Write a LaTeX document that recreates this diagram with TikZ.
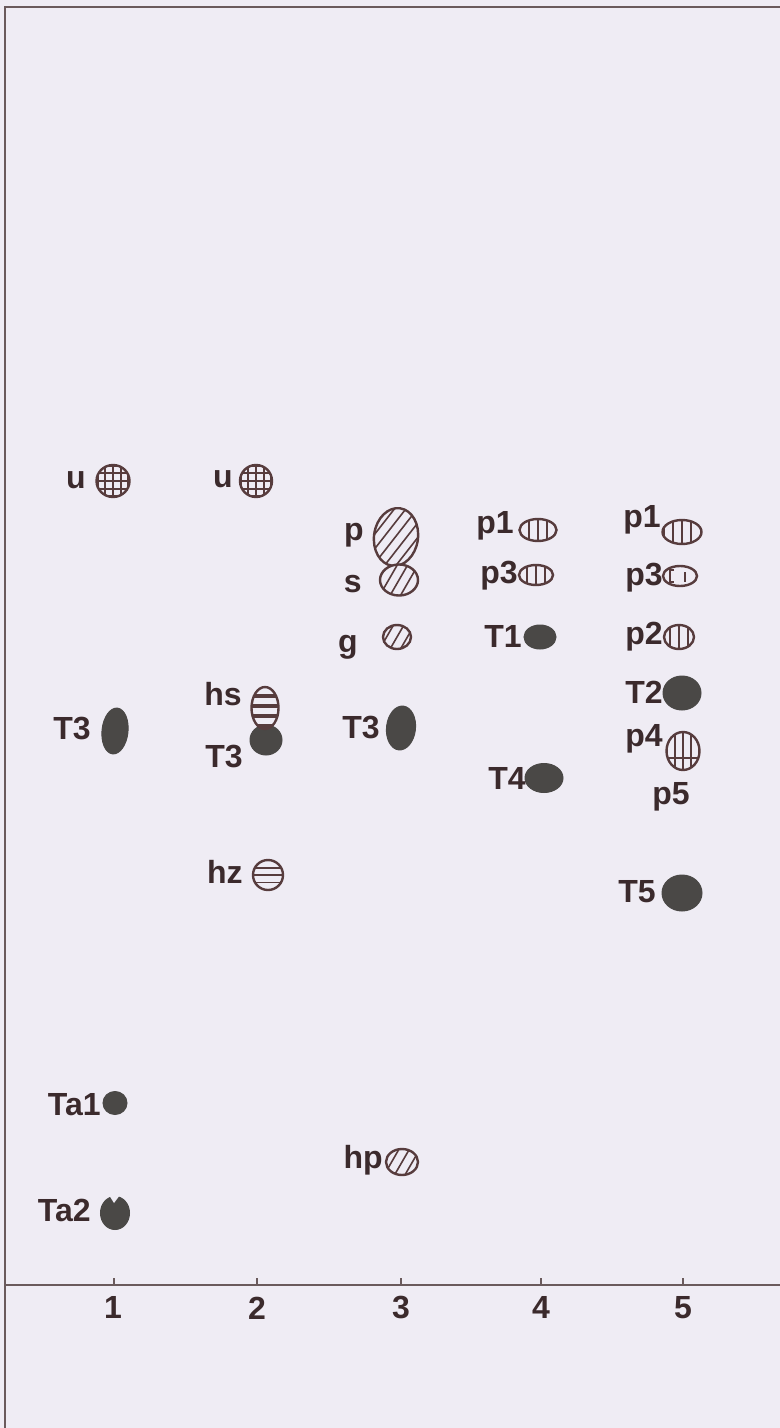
\documentclass[tikz,border=0pt]{standalone}
\usepackage{fontspec}
\setmainfont{Liberation Sans}
\usetikzlibrary{shapes.geometric}
\definecolor{bgcol}{HTML}{EFECF4}
\definecolor{ink}{HTML}{3B2A2C}
\definecolor{spotdark}{HTML}{4A4846}
\definecolor{spotline}{HTML}{573C3D}
\definecolor{axiscol}{HTML}{6A5A5C}
\begin{document}
\begin{tikzpicture}[x=0.5pt,y=-0.5pt,
  lbl/.style={anchor=base east, inner sep=0pt, text=ink, font=\fontsize{16}{18}\selectfont\bfseries},
  axlbl/.style={anchor=base, inner sep=0pt, text=ink, font=\fontsize{16}{18}\selectfont\bfseries},
  sz/.style n args={2}{minimum width=#1*0.5pt, minimum height=#2*0.5pt},
  darkspot/.style={ellipse, inner sep=0pt, fill=spotdark, draw=spotdark, line width=0.5pt},
  openspot/.style={ellipse, inner sep=0pt, fill=bgcol, draw=spotline, line width=1.2pt},
  vstripe/.style={openspot, path picture={
      \foreach \k in {-2,...,2} \draw[spotline, line width=0.9pt]
        ([xshift=\k*4.6pt]path picture bounding box.north) -- ([xshift=\k*4.6pt]path picture bounding box.south);}},
  p4spot/.style={openspot, path picture={
      \foreach \k in {-2,...,2} \draw[spotline, line width=0.9pt]
        ([xshift=\k*4pt]path picture bounding box.north) -- ([xshift=\k*4pt]path picture bounding box.south);
      \draw[spotline, line width=0.9pt] ([yshift=-3.5pt]path picture bounding box.west) -- ([yshift=-3.5pt]path picture bounding box.east);}},
  hstripe/.style={openspot, path picture={
      \foreach \k in {-2,...,2} \draw[spotline, line width=0.9pt]
        ([yshift=\k*3.7pt]path picture bounding box.west) -- ([yshift=\k*3.7pt]path picture bounding box.east);}},
  hband/.style={openspot, path picture={
      \foreach \k in {-3,...,3} \draw[spotline, line width=2.1pt]
        ([yshift=\k*5pt+1pt]path picture bounding box.west) -- ([yshift=\k*5pt+1pt]path picture bounding box.east);}},
  gridspot/.style={openspot, path picture={
      \foreach \k in {-2,...,2} {\draw[spotline, line width=1pt]
        ([xshift=\k*3.8pt]path picture bounding box.north) -- ([xshift=\k*3.8pt]path picture bounding box.south);
        \draw[spotline, line width=1pt]
        ([yshift=\k*3.8pt]path picture bounding box.west) -- ([yshift=\k*3.8pt]path picture bounding box.east);}}},
  diagspot/.style={openspot, path picture={
      \foreach \k in {-5,...,5} \draw[spotline, line width=0.8pt]
        ([shift={(\k*5.2pt-12.5pt,-21.65pt)}]path picture bounding box.center) -- ++(60:50pt);}},
  p3spot/.style={openspot, path picture={
      \draw[spotline, line width=0.9pt] ([xshift=-3pt,yshift=3pt]path picture bounding box.center) -- ++(-2pt,0pt) -- ++(0pt,-6pt) -- ++(2pt,0pt);
      \draw[spotline, line width=0.9pt] ([xshift=2.5pt,yshift=2pt]path picture bounding box.center) -- ++(0pt,-5pt);}}
]
\useasboundingbox (0,0) rectangle (780,1428);
\fill[bgcol] (0,0) rectangle (780,1428);

% frame and axis
\draw[axiscol, line width=1pt] (5,1428) -- (5,7) -- (780,7);
\draw[axiscol, line width=1pt] (5,1285) -- (780,1285);
\foreach \x in {114,257,401,541,683} \draw[axiscol, line width=0.8pt] (\x,1285) -- (\x,1278);
\node[axlbl] (ax1) at (113,1318) {1};
\node[axlbl] (ax2) at (257,1319) {2};
\node[axlbl] (ax3) at (401,1318) {3};
\node[axlbl] (ax4) at (541,1318) {4};
\node[axlbl] (ax5) at (683,1318) {5};

% lane 1
\node[gridspot, sz={33}{32}] (u1) at (113,481) {};
\node[lbl] (lu1) at (86,488) {u};
\node[darkspot, sz={26}{46}, rotate=-6] (t3a) at (115,731) {};
\node[lbl] (lt3a) at (91,739) {T3};
\node[darkspot, sz={24}{23}] (ta1) at (115,1103) {};
\node[lbl] (lta1) at (101,1115) {Ta1};
\node[darkspot, sz={29}{33}] (ta2) at (115,1213) {};
\fill[bgcol] ([xshift=-3pt,yshift=0.5pt]ta2.north) -- ([xshift=-0.5pt,yshift=-3.5pt]ta2.north) -- ([xshift=2.5pt,yshift=0.5pt]ta2.north) -- cycle;
\node[lbl] (lta2) at (91,1221) {Ta2};

% lane 2
\node[gridspot, sz={32}{32}] (u2) at (256,481) {};
\node[lbl] (lu2) at (233,487) {u};
\node[darkspot, sz={32}{30}] (t3b) at (266,740) {};
\node[hband, sz={27}{42}] (hs) at (265,708) {};
\node[lbl] (lhs) at (242,705) {hs};
\node[lbl] (lt3b) at (243,767) {T3};
\node[hstripe, sz={30}{30}] (hz) at (268,875) {};
\node[lbl] (lhz) at (243,883) {hz};

% lane 3
\node[diagspot, sz={44}{58}, rotate=-8] (p) at (396,537) {};
\node[lbl] (lp) at (364,540) {p};
\node[diagspot, sz={38}{31}] (s) at (399,580) {};
\node[lbl] (ls) at (362,592) {s};
\node[diagspot, sz={28}{24}] (g) at (397,637) {};
\node[lbl] (lg) at (358,652) {g};
\node[darkspot, sz={29}{44}, rotate=-6] (t3c) at (401,728) {};
\node[lbl] (lt3c) at (380,738) {T3};
\node[diagspot, sz={32}{26}] (hp) at (402,1162) {};
\node[lbl] (lhp) at (383,1168) {hp};

% lane 4
\node[vstripe, sz={37}{22}] (p1a) at (538,530) {};
\node[lbl] (lp1a) at (514,533) {p1};
\node[vstripe, sz={34}{20}] (p3a) at (536,575) {};
\node[lbl] (lp3a) at (518,583) {p3};
\node[darkspot, sz={32}{24}] (t1) at (540,637) {};
\node[lbl] (lt1) at (522,647) {T1};
\node[darkspot, sz={38}{29}] (t4) at (544,778) {};
\node[lbl] (lt4) at (526,789) {T4};

% lane 5
\node[vstripe, sz={39}{24}] (p1b) at (682,532) {};
\node[lbl] (lp1b) at (661,527) {p1};
\node[p3spot, sz={34}{20}] (p3b) at (680,576) {};
\node[lbl] (lp3b) at (663,585) {p3};
\node[vstripe, sz={30}{24}] (p2) at (679,637) {};
\node[lbl] (lp2) at (663,644) {p2};
\node[darkspot, sz={38}{34}] (t2) at (682,693) {};
\node[lbl] (lt2) at (663,703) {T2};
\node[p4spot, sz={33}{38}] (p4) at (683,751) {};
\node[lbl] (lp4) at (663,746) {p4};
\node[lbl, anchor=base west] (lp5) at (652,804) {p5};
\node[darkspot, sz={40}{36}] (t5) at (682,893) {};
\node[lbl] (lt5) at (656,902) {T5};
\end{tikzpicture}
\end{document}
